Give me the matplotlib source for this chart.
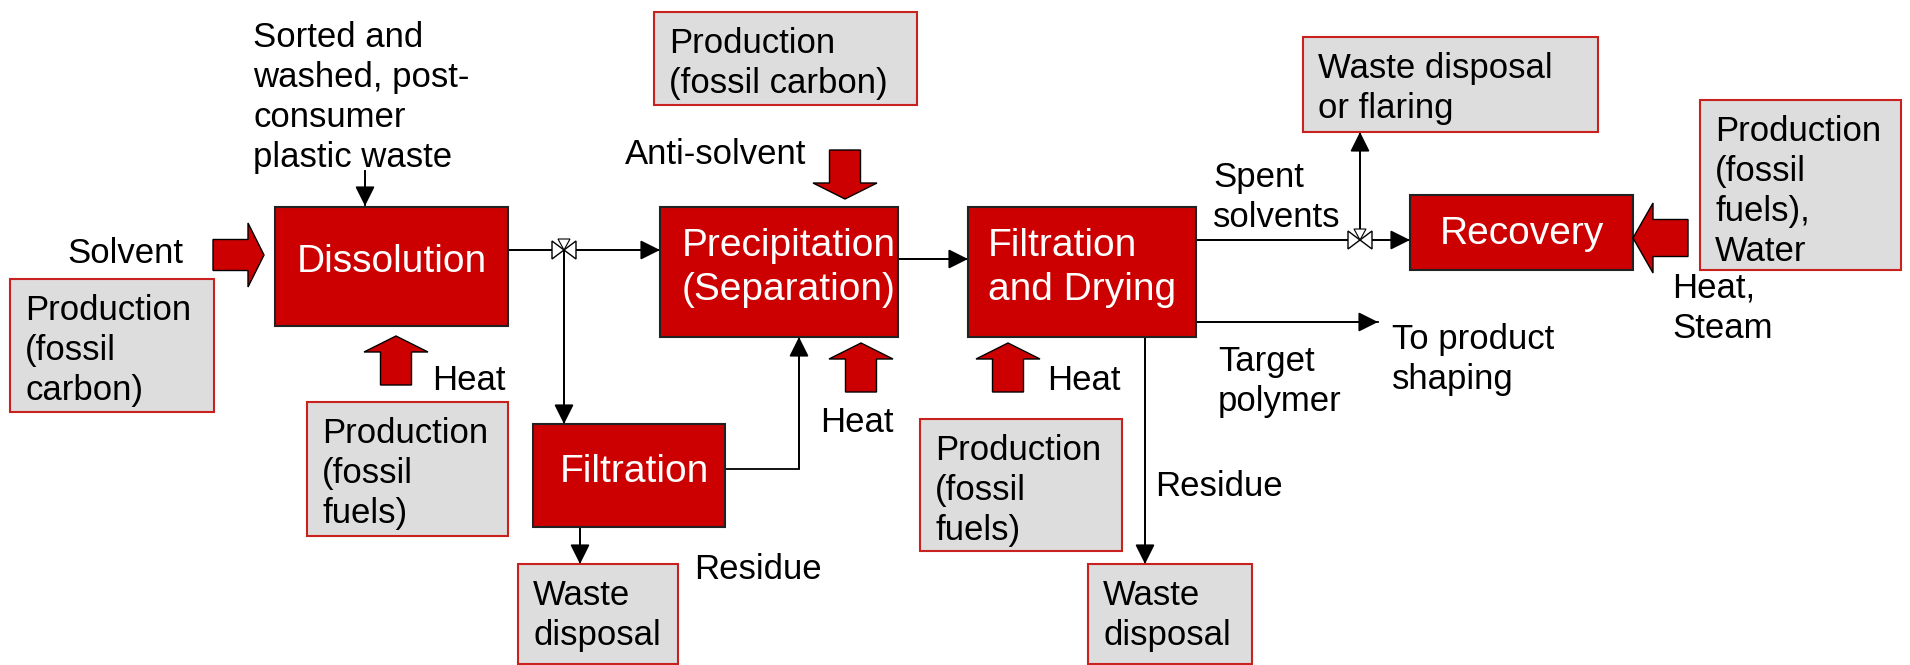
import matplotlib.pyplot as plt
from matplotlib.patches import Rectangle, FancyArrow, Polygon

plt.rcParams['font.family'] = ['Liberation Sans', 'DejaVu Sans']

# process steps (red boxes)
process_labels = ["Dissolution", "Precipitation\n(Separation)", "Filtration",
                  "Filtration\nand Drying", "Recovery"]
# supply / disposal boxes (grey)
side_labels = ["Production\n(fossil\ncarbon)", "Production\n(fossil\nfuels)",
               "Production\n(fossil carbon)", "Waste\ndisposal",
               "Production\n(fossil\nfuels)", "Waste\ndisposal",
               "Waste disposal\nor flaring", "Production\n(fossil\nfuels),\nWater"]
# free labels on flows
flow_labels = ["Sorted and\nwashed, post-\nconsumer\nplastic waste", "Solvent", "Heat",
               "Anti-solvent", "Heat", "Residue", "Heat", "Residue",
               "Spent\nsolvents", "Target\npolymer", "To product\nshaping", "Heat,\nSteam"]

# layout in pixels (x0, y0, x1, y1), y downwards
process_pos = [(275, 207, 508, 326), (660, 207, 898, 337), (533, 424, 725, 527),
               (968, 207, 1196, 337), (1410, 195, 1633, 270)]
process_text_shift = [(0, -5), (10, -4), (5, -4), (0, -4), (0, 1)]
side_pos = [(10, 279, 214, 412), (307, 402, 508, 536), (654, 12, 917, 105),
            (518, 564, 678, 664), (920, 419, 1122, 551), (1088, 564, 1252, 664),
            (1303, 37, 1598, 132), (1700, 100, 1901, 270)]
flow_label_pos = [(253, 21), (67, 237), (432, 364), (625, 138), (820, 406),
                  (694, 553), (1047, 364), (1155, 470), (1213, 161), (1218, 345),
                  (1392, 323), (1672, 272)]

RED = "#cc0000"
GREY = "#dddddd"
EDGE = "#c9211e"

fig = plt.figure(figsize=(19.1, 6.65), dpi=100)
ax = fig.add_axes([0, 0, 1, 1])
ax.set_xlim(0, 1910)
ax.set_ylim(665, 0)
ax.axis("off")

for label, (x0, y0, x1, y1), (sx, sy) in zip(process_labels, process_pos, process_text_shift):
    ax.add_patch(Rectangle((x0, y0), x1 - x0, y1 - y0, facecolor=RED,
                           edgecolor="#222222", lw=1.5, zorder=3))
    ax.text((x0 + x1) / 2 + sx, (y0 + y1) / 2 + sy, label, color="white", fontsize=28,
            ha="center", va="center", multialignment="left", linespacing=1.32, zorder=4)

for label, (x0, y0, x1, y1) in zip(side_labels, side_pos):
    ax.add_patch(Rectangle((x0, y0), x1 - x0, y1 - y0, facecolor=GREY,
                           edgecolor=EDGE, lw=1.5, zorder=3))
    ax.text(x0 + 15, y0 + 15, label, color="black", fontsize=25,
            ha="left", va="top", linespacing=1.27, zorder=4)

for label, (x, y) in zip(flow_labels, flow_label_pos):
    ax.text(x, y, label, fontsize=25, ha="left", va="top", linespacing=1.27)


def block_arrow(x, y, dx, dy, shaft=31, head=64, head_len=16):
    ax.add_patch(FancyArrow(x, y, dx, dy, width=shaft, head_width=head,
                            head_length=head_len, length_includes_head=True,
                            facecolor=RED, edgecolor="black", lw=1, zorder=3))


block_arrow(213, 255, 51, 0)          # solvent
block_arrow(396, 385, 0, -49)         # heat dissolution
block_arrow(845, 150, 0, 49)          # anti-solvent
block_arrow(861, 392, 0, -49)         # heat precipitation
block_arrow(1008, 392, 0, -49)        # heat drying
block_arrow(1688, 238, -55, 0, shaft=37, head=70, head_len=20)  # heat recovery


def line_arrow(points):
    xs = [p[0] for p in points]
    ys = [p[1] for p in points]
    ax.plot(xs, ys, color="black", lw=1.3, zorder=2)
    ax.annotate("", xy=points[-1], xytext=points[-2],
                arrowprops=dict(arrowstyle="-|>", color="black", lw=1.3,
                                mutation_scale=30, shrinkA=0, shrinkB=0), zorder=2)


def valve(x, y, s=12):
    h = s * 0.75
    ax.add_patch(Polygon([(x - s, y - h), (x + s, y + h),
                          (x + s, y - h), (x - s, y + h)],
                         closed=True, facecolor="white", edgecolor="black", lw=1, zorder=5))
    # small actuator on top
    ax.add_patch(Polygon([(x - 6, y - h - 2), (x + 6, y - h - 2), (x, y)],
                         closed=True, facecolor="white", edgecolor="black", lw=0.8, zorder=6))


line_arrow([(365, 171), (365, 206)])
line_arrow([(508, 250), (660, 250)])
line_arrow([(564, 250), (564, 424)])
line_arrow([(725, 469), (799, 469), (799, 337)])
line_arrow([(580, 527), (580, 564)])
line_arrow([(898, 259), (968, 259)])
line_arrow([(1145, 337), (1145, 564)])
line_arrow([(1196, 322), (1378, 322)])
line_arrow([(1196, 240), (1410, 240)])
line_arrow([(1360, 240), (1360, 132)])
valve(564, 250)
valve(1360, 240)

fig.savefig("out.png", dpi=100)
